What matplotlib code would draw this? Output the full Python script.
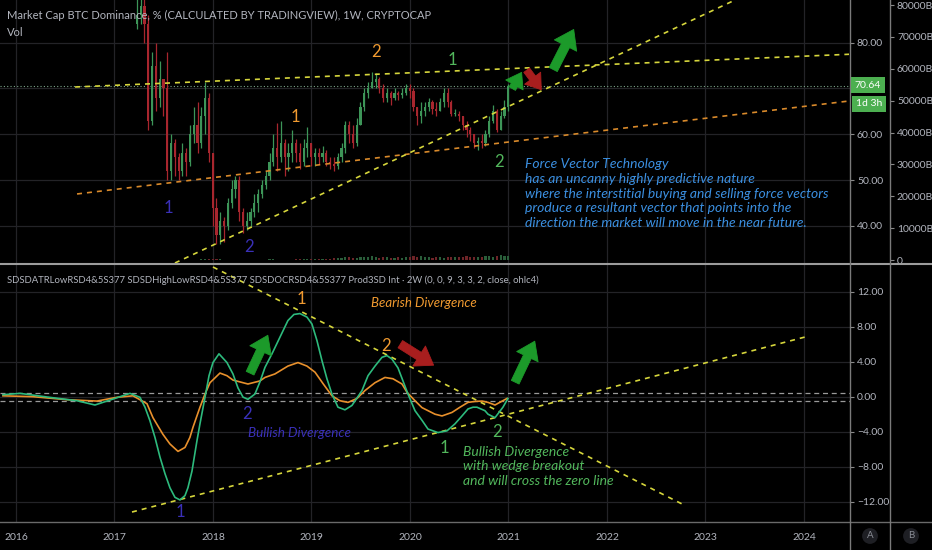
"""BTC dominance weekly chart with force-vector oscillator, dark TradingView look."""

import matplotlib
matplotlib.use("Agg")
import matplotlib.pyplot as plt
from matplotlib.patches import FancyArrowPatch
from matplotlib.lines import Line2D
import numpy as np

W, H = 932, 550
BG = "#000000"
GRID = "#232327"
TXT = "#b2b5be"
UI_FONT = ["Liberation Sans Narrow", "Lato", "DejaVu Sans"]
NOTE_FONT = ["Lato", "DejaVu Sans"]

YEARS = [2016, 2017, 2018, 2019, 2020, 2021, 2022, 2023, 2024]
X_RANGE = (2015.838, 2024.467)

# bi-weekly candles, first one at 2017.23
candle_start = 2017.228
candle_step = 2 / 52
close = [86, 88, 84, 63, 75, 68, 72, 70, 52, 58,
         55, 52, 56, 54, 60, 62, 58, 64, 68, 56,
         44, 38, 41, 40, 45, 48, 50, 43, 40, 41,
         43, 45, 47, 49, 51, 54, 57, 55, 58, 55,
         56, 58, 56, 54, 57, 58, 55, 56, 55, 56,
         54, 53.5, 53, 55, 57, 62, 60, 58, 62, 66,
         69, 70, 71.5, 72, 70, 68, 69, 68, 69, 68.5,
         69, 70, 69.5, 66, 64, 65, 66, 67, 65.5, 65,
         67, 69, 67, 64.5, 64.5, 64, 62, 61, 60, 58,
         58.5, 58, 60, 63, 65, 61, 64, 66, 70.64]
high = [90, 92, 90, 86, 78, 80, 76, 72, 78, 60,
        59, 56, 58, 57, 62, 66, 67, 66, 71.5, 69,
        56, 46, 43, 42, 46, 50, 51, 51, 44, 43,
        44, 47, 48, 50, 52, 56, 60, 62.5, 63, 59,
        58, 61, 59, 58, 59, 61.5, 58, 57, 57, 57.5,
        56.5, 55, 55, 56, 58, 63, 63, 62, 63.5, 67,
        70, 71.5, 73.5, 73.3, 72.5, 71, 70, 69.5, 70, 69.5,
        70, 71, 71, 70, 66, 67, 67, 68, 67.5, 67,
        68, 70, 70, 67.5, 65.5, 65, 64, 63, 61.5, 60,
        59.5, 60, 61, 64, 66.5, 65.5, 65, 67.5, 71]
low = [83, 84, 80, 61, 62, 65, 66, 64, 50, 50,
       51, 50, 51, 51, 53, 58, 56, 57, 60, 54,
       40, 36, 36, 36.5, 39, 44, 46, 41, 38.5, 39,
       40, 42, 43, 46, 48, 50, 53, 52, 54, 51,
       52, 54, 54, 52.5, 53, 55, 53, 53, 53.5, 54,
       53, 52.5, 52, 52.5, 54, 56, 58, 57, 57.5, 62,
       65, 68, 70, 70, 69, 67, 67, 66.5, 67.5, 67.5,
       68, 68.5, 68, 65, 62, 62.5, 64, 65, 64.5, 64,
       65, 66, 66, 64, 64, 63, 61, 59.5, 58.5, 57,
       56.5, 57, 57.5, 59.5, 62.5, 60.5, 61, 63.5, 65]
first_open = 84
volume = [120, 140, 130, 150, 110, 100, 90, 120, 130, 110,
          100, 90, 110, 100, 120, 140, 130, 160, 180, 200,
          220, 190, 160, 150, 140, 130, 120, 140, 130, 120,
          110, 120, 130, 140, 150, 170, 160, 150, 140, 130,
          140, 150, 160, 170, 180, 200, 220, 250, 300, 350,
          400, 450, 600, 500, 700, 900, 800, 600, 700, 900,
          1000, 800, 1200, 900, 700, 800, 900, 700, 600, 800,
          700, 900, 800, 1100, 1000, 1200, 900, 800, 700, 900,
          800, 700, 900, 1000, 800, 900, 1000, 1200, 900, 800,
          900, 1000, 1100, 1200, 1000, 1300, 1500, 1100, 1400]
last_price = 70.64

# oscillator (2W)
green_t = [2015.868, 2016.041, 2016.345, 2016.619, 2016.802, 2016.985, 2017.157, 2017.259, 2017.310, 2017.360,
           2017.411, 2017.462, 2017.513, 2017.563, 2017.614, 2017.665, 2017.716, 2017.746, 2017.787, 2017.838,
           2017.868, 2017.919, 2017.960, 2018.000, 2018.061, 2018.142, 2018.203, 2018.254, 2018.305, 2018.355,
           2018.426, 2018.477, 2018.528, 2018.599, 2018.680, 2018.761, 2018.822, 2018.883, 2018.954, 2019.005,
           2019.056, 2019.107, 2019.157, 2019.208, 2019.269, 2019.340, 2019.411, 2019.513, 2019.574, 2019.645,
           2019.716, 2019.766, 2019.817, 2019.878, 2019.929, 2019.980, 2020.051, 2020.122, 2020.183, 2020.284,
           2020.376, 2020.457, 2020.528, 2020.589, 2020.640, 2020.680, 2020.761, 2020.792, 2020.863, 2020.944,
           2020.995]
green_v = [0.23, 0.38, -0.08, -0.46, -0.95, -0.27, 0.38, -0.07, -1.2, -2.74,
           -4.65, -6.9, -8.8, -10.4, -11.5, -11.8, -11.3, -10.4, -8.5, -5.0,
           -3.1, -0.08, 2.4, 3.9, 4.9, 3.9, 2.6, 1.0, -0.05, -0.3,
           0.3, 1.7, 3.35, 4.9, 6.8, 8.7, 9.4, 9.5, 9.1, 8.3,
           6.4, 4.1, 2.05, 0.3, -1.2, -1.5, -1.0, 0.7, 2.4, 3.5,
           4.5, 4.7, 4.3, 3.3, 1.8, 0.3, -1.6, -2.7, -3.7, -4.1,
           -3.9, -3.1, -2.2, -1.4, -1.2, -1.2, -1.6, -2.0, -2.4, -1.2,
           -0.2]
orange_t = [2015.868, 2016.173, 2016.518, 2016.822, 2017.025, 2017.188, 2017.330, 2017.391, 2017.492, 2017.563,
            2017.645, 2017.716, 2017.766, 2017.797, 2017.868, 2017.919, 2017.970, 2018.071, 2018.142, 2018.203,
            2018.355, 2018.477, 2018.528, 2018.629, 2018.761, 2018.863, 2018.954, 2019.036, 2019.117, 2019.208,
            2019.289, 2019.371, 2019.462, 2019.543, 2019.645, 2019.746, 2019.827, 2019.919, 2019.970, 2020.051,
            2020.122, 2020.254, 2020.325, 2020.426, 2020.508, 2020.589, 2020.660, 2020.731, 2020.792, 2020.863,
            2020.985]
orange_v = [0.1, 0.0, -0.34, -0.5, -0.07, 0.1, -0.8, -2.4, -4.3, -5.4,
            -6.25, -5.8, -4.65, -3.5, -1.2, 0.3, 1.6, 2.7, 2.4, 1.9,
            1.45, 1.8, 2.2, 2.6, 3.5, 3.9, 3.5, 2.8, 1.5, 0.1,
            -0.46, -0.65, -0.2, 0.7, 1.6, 2.2, 2.05, 1.45, 0.5, -0.46,
            -1.25, -2.0, -2.2, -1.8, -1.2, -0.65, -0.54, -0.5, -0.65, -0.95,
            -0.2]

# drawn trend lines: (x0, y0, x1, y1, colour)
price_lines = [(2016.60, 70.33, 2024.457, 77.47, "#d6d63c"),
               (2016.62, 46.97, 2024.457, 67.27, "#d98a2b"),
               (2017.614, 31.9, 2023.30, 89.32, "#d6d63c")]
osc_lines = [(2018.0, 14.82, 2022.802, -12.49, "#d6d63c"),
             (2017.178, -13.18, 2024.01, 6.82, "#d6d63c")]

# arrows: (tail_x, tail_y, head_x, head_y, colour, scale)
price_arrows = [(2021.025, 69.45, 2021.147, 74.04, "#1c9a2a", 8),
                (2021.168, 74.48, 2021.350, 69.24, "#a81e1e", 8),
                (2021.442, 73.60, 2021.675, 83.43, "#1c9a2a", 10)]
osc_arrows = [(2018.365, 2.4, 2018.569, 7.31, "#1c9a2a", 9.5),
              (2019.878, 6.17, 2020.264, 3.43, "#a81e1e", 9.5),
              (2021.056, 1.37, 2021.279, 6.63, "#1c9a2a", 9.5)]

PURPLE, ORANGE, GREEN, BLUE = "#3a30b8", "#f09a30", "#52b75c", "#3b8fe0"
price_marks = [(2017.543, 43.9, "1", PURPLE), (2018.365, 35.4, "2", PURPLE),
               (2018.832, 63.8, "1", ORANGE), (2019.655, 78.0, "2", ORANGE),
               (2020.426, 76.2, "1", GREEN), (2020.904, 54.0, "2", GREEN)]
osc_marks = [(2018.893, 11.2, "1", ORANGE), (2019.756, 5.83, "2", ORANGE),
             (2018.345, -1.94, "2", PURPLE), (2017.665, -13.14, "1", PURPLE),
             (2020.345, -5.83, "1", GREEN), (2020.883, -4.0, "2", GREEN)]

blue_note = ("Force Vector Technology\n"
             "has an uncanny highly predictive nature\n"
             "where the interstitial buying and selling force vectors\n"
             "produce a resultant vector that points into the\n"
             "direction the market will move in the near future.")
green_note = "Bullish Divergence\nwith wedge breakout\nand will cross the zero line"

TITLE_TOP = "Market Cap BTC Dominance, % (CALCULATED BY TRADINGVIEW), 1W, CRYPTOCAP"
TITLE_OSC = ("SDSDATRLowRSD4&5S377 SDSDHighLowRSD4&5S377 SDSDOCRSD4&5S377 Prod3SD Int · 2W "
             "(0, 0, 9, 3, 3, 2, close, ohlc4)")


def px_rect(x0, y0, x1, y1):
    return [x0 / W, 1 - y1 / H, (x1 - x0) / W, (y1 - y0) / H]


def base_axes(ax, ylim, yticks, labels):
    ax.set_facecolor(BG)
    ax.set_xlim(*X_RANGE)
    ax.set_ylim(*ylim)
    for s in ax.spines.values():
        s.set_visible(False)
    ax.set_xticks(YEARS)
    ax.yaxis.tick_right()
    ax.yaxis.set_label_position("right")
    ax.set_yticks(yticks)
    ax.set_yticklabels(labels, family=UI_FONT)
    ax.tick_params(axis="y", colors=TXT, labelsize=7.5, length=3, width=0.8, pad=2,
                   left=False, labelleft=False, right=True, labelright=True)
    ax.tick_params(axis="y", color="#8a8a8a")
    ax.grid(True, color=GRID, lw=0.9)
    ax.set_axisbelow(True)


def add_arrows(ax, arrows):
    for x0, y0, x1, y1, col, sc in arrows:
        ax.add_patch(FancyArrowPatch(
            (x0, y0), (x1, y1),
            arrowstyle="simple,head_width=1.8,head_length=1.3,tail_width=0.65",
            mutation_scale=sc, fc=col, ec=col, lw=0.6, zorder=6))


def add_marks(ax, marks):
    for x, y, s, col in marks:
        ax.text(x, y, s, color=col, fontsize=12, family=NOTE_FONT,
                ha="center", va="center", zorder=6)


def dashed(ax, lines):
    for x0, y0, x1, y1, col in lines:
        ax.plot([x0, x1], [y0, y1], color=col, lw=1.2, ls=(0, (3, 3)), zorder=4)


def main():
    fig = plt.figure(figsize=(W / 100, H / 100), dpi=100, facecolor=BG)

    # price pane
    ax = fig.add_axes(px_rect(0, 0, 850, 263))
    axv = ax.twinx()
    base_axes(ax, (31.9, 89.32), [40, 50, 60, 70, 80],
              ["40.00", "50.00", "60.00", "", "80.00"])
    ax.tick_params(axis="x", length=0, labelbottom=False)

    axv.set_ylim(-941, 81569)
    for s in axv.spines.values():
        s.set_visible(False)
    axv.spines["right"].set_position(("axes", 890 / 850))
    vt = list(range(0, 80001, 10000))
    axv.set_yticks(vt)
    axv.set_yticklabels(["0" if v == 0 else f"{v}B" for v in vt], family=UI_FONT)
    axv.tick_params(axis="y", colors=TXT, labelsize=7.5, length=3, width=0.8, pad=2)
    axv.tick_params(axis="y", color="#8a8a8a")

    n = len(close)
    xs = candle_start + candle_step * np.arange(n)
    opens = np.array([first_open] + close[:-1], dtype=float)
    closes = np.array(close, dtype=float)
    up = closes >= opens
    cols = np.where(up, "#3d9558", "#a8262e")
    body = np.where(np.abs(closes - opens) < 0.2, 0.2, closes - opens)
    ax.vlines(xs, low, high, colors=cols, lw=0.9, zorder=3)
    ax.bar(xs, body, bottom=opens, width=0.022, color=cols, lw=0, zorder=3)
    vcols = np.where(up, "#2a5e3a", "#6e2428")
    axv.bar(xs, volume, width=0.022, color=vcols, lw=0, zorder=2)

    ax.axhline(last_price, color="#7da88a", lw=0.8, ls=(0, (1, 2)), zorder=2)
    dashed(ax, price_lines)
    add_arrows(ax, price_arrows)
    add_marks(ax, price_marks)
    ax.text(2021.168, 54.75, blue_note, color=BLUE, fontsize=10, style="italic",
            family=NOTE_FONT, ha="left", va="top", linespacing=1.26, zorder=6)

    # oscillator pane
    axo = fig.add_axes(px_rect(0, 265, 850, 522))
    base_axes(axo, (-14.32, 15.05), [-12, -8, -4, 0, 4, 8, 12],
              [f"{v:.2f}".replace("-", "\u2212") for v in [-12, -8, -4, 0, 4, 8, 12]])
    axo.set_xticklabels([str(y) for y in YEARS], family=UI_FONT)
    axo.tick_params(axis="x", colors=TXT, labelsize=7.5, length=0, pad=8)
    axo.axhline(0.42, color="#9a9a9a", lw=0.9, ls=(0, (4, 3)), zorder=2)
    axo.axhline(-0.5, color="#9a9a9a", lw=0.9, ls=(0, (4, 3)), zorder=2)
    axo.plot(orange_t, orange_v, color="#e8902c", lw=1.2, zorder=5, solid_joinstyle="round")
    axo.plot(green_t, green_v, color="#2dba7d", lw=1.2, zorder=5, solid_joinstyle="round")
    dashed(axo, osc_lines)
    add_arrows(axo, osc_arrows)
    add_marks(axo, osc_marks)
    axo.text(2019.604, 10.74, "Bearish Divergence", color=ORANGE, fontsize=9.5,
             style="italic", family=NOTE_FONT, ha="left", va="center", zorder=6)
    axo.text(2018.355, -4.11, "Bullish Divergence", color=PURPLE, fontsize=9.7,
             style="italic", family=NOTE_FONT, ha="left", va="center", zorder=6)
    axo.text(2020.538, -5.6, green_note, color=GREEN, fontsize=10, style="italic",
             family=NOTE_FONT, ha="left", va="top", linespacing=1.28, zorder=6)

    # pane titles
    fig.text(7 / W, 1 - 15 / H, TITLE_TOP, color=TXT, fontsize=8, family=UI_FONT, va="center")
    fig.text(7 / W, 1 - 32 / H, "Vol", color=TXT, fontsize=8, family=UI_FONT, va="center")
    fig.text(7 / W, 1 - 280 / H, TITLE_OSC, color=TXT, fontsize=6.85, family=UI_FONT, va="center")

    # separators
    sep = dict(transform=fig.transFigure, zorder=10)
    fig.add_artist(Line2D([0, 1], [1 - 264 / H] * 2, color="#9c9c9c", lw=1.5, **sep))
    fig.add_artist(Line2D([0, 1], [1 - 522 / H] * 2, color="#6a6a6a", lw=1.0, **sep))
    for xp in (850, 890):
        fig.add_artist(Line2D([xp / W] * 2, [0, 1], color="#7a7a7a", lw=1.0, **sep))

    # last price tags
    tag = dict(boxstyle="square,pad=0.35", fc="#4caf50", ec="none")
    fig.text(868 / W, 1 - 85 / H, "70.64", color="white", fontsize=7.5, family=UI_FONT,
             ha="center", va="center", bbox=tag, zorder=11)
    fig.text(869 / W, 1 - 104 / H, "1d 3h", color="white", fontsize=7.5, family=UI_FONT,
             ha="center", va="center", bbox=tag, zorder=11)

    # scale buttons
    btn = dict(boxstyle="circle,pad=0.35", fc="#1e1f24", ec="none")
    fig.text(870 / W, 1 - 536 / H, "A", color="#8a8d95", fontsize=7, family=UI_FONT,
             ha="center", va="center", bbox=btn)
    fig.text(911 / W, 1 - 536 / H, "B", color="#8a8d95", fontsize=7, family=UI_FONT,
             ha="center", va="center", bbox=btn)

    fig.savefig("out.png", dpi=100, facecolor=BG)


if __name__ == "__main__":
    main()
